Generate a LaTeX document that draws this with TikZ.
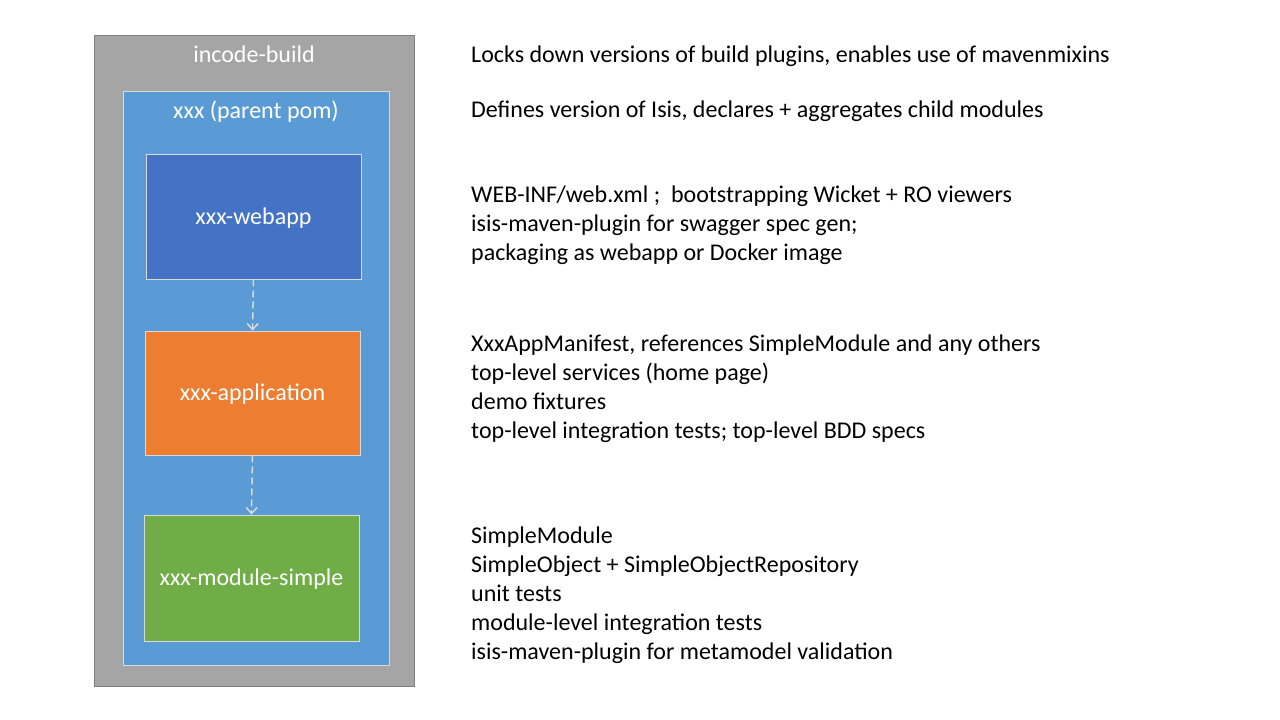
\documentclass[tikz,border=0pt]{standalone}
\usepackage{fontspec}
\setmainfont{Carlito}
\usetikzlibrary{arrows.meta}
\definecolor{outergray}{HTML}{A5A5A5}
\definecolor{outerline}{HTML}{7F7F7F}
\definecolor{parentblue}{HTML}{5B9BD5}
\definecolor{webblue}{HTML}{4472C4}
\definecolor{apporange}{HTML}{ED7D31}
\definecolor{modgreen}{HTML}{70AD47}
\definecolor{arrowgray}{HTML}{D9D9D9}
\tikzset{
  box/.style={draw=white!85!black, line width=0.8pt, inner sep=0pt, text=white, text height=15pt, text depth=0pt, font=\fontsize{24}{28}\selectfont},
  desc/.style={anchor=base west, inner sep=0pt, font=\fontsize{24}{28}\selectfont, text=black},
  dep/.style={draw=arrowgray, line width=1.5pt, dash pattern=on 7pt off 4pt, -{Straight Barb[length=6pt,width=11pt]}},
  lbl/.style={anchor=base, text=white, inner sep=0pt, font=\fontsize{24}{28}\selectfont}
}
\begin{document}
\begin{tikzpicture}[x=1pt,y=-1pt]
\useasboundingbox[fill=white] (0,0) rectangle (1280,720);
\node[draw=outerline, fill=outergray, line width=0.8pt, minimum width=320pt, minimum height=651pt, inner sep=0pt] (outer) at (254,360.5) {};
\node[lbl] (outerlbl) at (254,62) {incode-build};
\node[draw=white!85!black, fill=parentblue, line width=0.8pt, minimum width=266pt, minimum height=574pt, inner sep=0pt] (parent) at (256,378) {};
\node[lbl] (parentlbl) at (256,118) {xxx (parent pom)};
\node[box, fill=webblue, minimum width=215pt, minimum height=125pt] (web) at (253.5,216.5) {xxx-webapp};
\node[box, fill=apporange, minimum width=215pt, minimum height=124pt] (app) at (252.5,393) {xxx-application};
\node[box, fill=modgreen, minimum width=215pt, minimum height=126pt] (mod) at (251.5,578) {xxx-module-simple};
\draw[dep] (web.south) -- (app.north);
\draw[dep] (app.south) -- (mod.north);
\foreach \t/\y in {
  {Locks down versions of build plugins, enables use of mavenmixins}/62,
  {Defines version of Isis, declares + aggregates child modules}/117,
  {WEB-INF/web.xml ;\ \ bootstrapping Wicket + RO viewers}/202,
  {isis-maven-plugin for swagger spec gen;}/231,
  {packaging as webapp or Docker image}/260,
  {XxxAppManifest, references SimpleModule and any others}/351,
  {top-level services (home page)}/380,
  {demo fixtures}/409,
  {top-level integration tests; top-level BDD specs}/438,
  {SimpleModule}/543,
  {SimpleObject + SimpleObjectRepository}/572,
  {unit tests}/601,
  {module-level integration tests}/630,
  {isis-maven-plugin for metamodel validation}/659}
  \node[desc] at (471,\y) {\t};
\end{tikzpicture}
\end{document}
